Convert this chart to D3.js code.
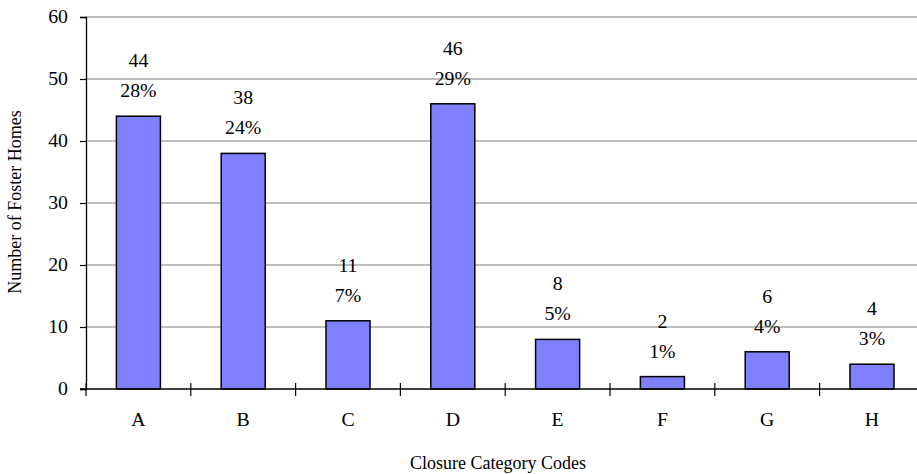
<!DOCTYPE html>
<html><head><meta charset="utf-8">
<script src="https://cdn.jsdelivr.net/npm/d3@7"></script>
<style>body{margin:0;background:#fff;} svg text{font-family:"Liberation Serif","Times New Roman",serif !important;}</style>
</head><body>
<svg id="c" width="917" height="474"></svg>
<script>
const categories = ["A","B","C","D","E","F","G","H"];
const values = [44,38,11,46,8,2,6,4];
const percents = ["28%","24%","7%","29%","5%","1%","4%","3%"];
const yTicks = [0,10,20,30,40,50,60];
const yTitle = "Number of Foster Homes";
const xTitle = "Closure Category Codes";

const FF = '"Liberation Serif","Times New Roman",serif';
const FS = 18;
const STRETCH = 1.1;
const svg = d3.select("#c");
const x0 = 87, bandW = 104.8;
const x = d3.scaleBand().domain(categories).range([x0, x0 + bandW*categories.length]).paddingInner(0).paddingOuter(0);
const y = d3.scaleLinear().domain([0,60]).range([389,17]);

function stretch(sel, k) {
  sel.each(function(){
    const L = this.getComputedTextLength();
    d3.select(this).attr("textLength", L*k).attr("lengthAdjust","spacingAndGlyphs");
  });
}

// gridlines
svg.append("g").selectAll("line").data(yTicks.filter(d=>d>0)).join("line")
  .attr("x1", x0-1).attr("x2", 917).attr("y1", d=>y(d)).attr("y2", d=>y(d))
  .attr("stroke", "#808080").attr("stroke-width", 1.2);

// bars
const bw = bandW*0.42;
svg.append("g").selectAll("rect").data(values).join("rect")
  .attr("x", (d,i)=>x(categories[i]) + (bandW-bw)/2 - 1)
  .attr("y", d=>y(d)).attr("width", bw).attr("height", d=>y(0)-y(d))
  .attr("fill", "#8080FF").attr("stroke", "#000").attr("stroke-width", 1.5);

// y axis
const ya = svg.append("g").attr("transform", `translate(${x0-1},0)`)
  .call(d3.axisLeft(y).tickValues(yTicks).tickSize(6).tickPadding(12));
ya.attr("font-family", FF);
ya.select(".domain").attr("stroke","#000").attr("stroke-width",1.3);
ya.selectAll("line").attr("stroke","#000").attr("stroke-width",1.2);
ya.selectAll("text").attr("font-size", FS).attr("fill","#000").attr("font-family", FF).call(stretch, STRETCH);

// x axis
svg.append("line").attr("x1", x0-7).attr("x2", 917).attr("y1", y(0)).attr("y2", y(0))
  .attr("stroke","#000").attr("stroke-width",1.5);
const bounds = d3.range(categories.length+1).map(i=>x0-1 + i*bandW);
svg.append("g").selectAll("line").data(bounds).join("line")
  .attr("x1", d=>d).attr("x2", d=>d).attr("y1", y(0)-6).attr("y2", y(0)+7)
  .attr("stroke","#000").attr("stroke-width",1.2);
svg.append("g").selectAll("text").data(categories).join("text")
  .attr("x", d=>x(d)+bandW/2-1).attr("y", 426).attr("text-anchor","middle")
  .attr("font-family", FF).attr("font-size", FS).text(d=>d).call(stretch, STRETCH);

// value labels
const lab = svg.append("g");
lab.selectAll("text.v").data(values).join("text").attr("class","v")
  .attr("x", (d,i)=>x(categories[i])+bandW/2-1).attr("y", d=>y(d)-49)
  .attr("text-anchor","middle").attr("font-family", FF).attr("font-size", FS).text(d=>d).call(stretch, STRETCH);
lab.selectAll("text.p").data(percents).join("text").attr("class","p")
  .attr("x", (d,i)=>x(categories[i])+bandW/2-1).attr("y", (d,i)=>y(values[i])-19)
  .attr("text-anchor","middle").attr("font-family", FF).attr("font-size", FS).text(d=>d).call(stretch, STRETCH);

// titles
svg.append("text").attr("x", 498).attr("y", 469).attr("text-anchor","middle")
  .attr("font-family", FF).attr("font-size", FS).text(xTitle);
svg.append("text").attr("transform","translate(21,202) rotate(-90)").attr("text-anchor","middle")
  .attr("font-family", FF).attr("font-size", FS).text(yTitle);
</script>
</body></html>
